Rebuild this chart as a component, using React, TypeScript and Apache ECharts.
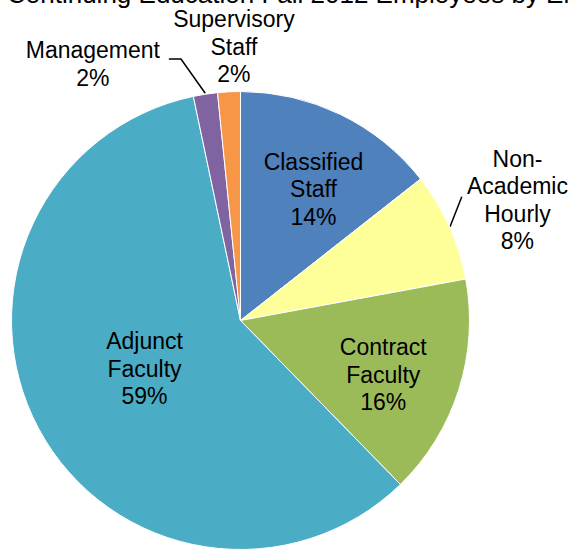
import React, { useEffect, useRef } from "react";
import * as echarts from "echarts";

const titleText = "Continuing Education Fall 2012 Employees by Employee Type";
const categories = ["Classified\nStaff", "Non-\nAcademic\nHourly", "Contract\nFaculty", "Adjunct\nFaculty", "Management", "Supervisory\nStaff"];
const values = [14.4, 7.7, 15.6, 59.0, 1.7, 1.6];
const colors = ["#4F81BD", "#FFFF99", "#9BBB59", "#4BACC6", "#8064A2", "#F79646"];

// label placement relative to slice mid-angle: radius (px) and angle offset (deg)
const labelPlacement = [
  { r: 150, d: 3.2 },
  { r: 302, d: 0.8 },
  { r: 152.7, d: 3.1 },
  { r: 107.5, d: 1.3 },
  { r: 296, d: -21.1 },
  { r: 273.6, d: 1.5 },
];
// leader lines (polar points relative to mid-angle), null = none
const leaderLines: (number[][] | null)[] = [
  null,
  [[229.5, 0.2], [253.5, -4.9]],
  null,
  null,
  [[230, 0], [268.2, -4.0], [271.1, -6.5]],
  null,
];

const CX = 240.5;
const CY = 320.5;
const R = 229;
const FONT = "'Liberation Sans', Arial, Helvetica, sans-serif";

export default function App() {
  const ref = useRef<HTMLDivElement>(null);
  useEffect(() => {
    if (!ref.current) return;
    const chart = echarts.init(ref.current, null, { renderer: "svg" });
    const total = values.reduce((a, b) => a + b, 0);
    const mids: number[] = [];
    let cum = 0;
    values.forEach((v) => {
      mids.push(((cum + v / 2) / total) * 360);
      cum += v;
    });
    const polar = (r: number, deg: number) => {
      const a = (deg * Math.PI) / 180;
      return [CX + r * Math.sin(a), CY - r * Math.cos(a)];
    };
    chart.setOption({
      animation: false,
      graphic: [
        {
          type: "text",
          left: 7,
          top: -19,
          style: { text: titleText, font: `26px ${FONT}`, fill: "#000" },
        },
      ],
      series: [
        {
          type: "pie",
          center: [CX, CY],
          radius: [0, R],
          startAngle: 90,
          clockwise: true,
          avoidLabelOverlap: false,
          itemStyle: { borderColor: "#ffffff", borderWidth: 1 },
          label: {
            show: true,
            position: "outside",
            color: "#000",
            fontFamily: FONT,
            fontSize: 23,
            lineHeight: 27.5,
            align: "center",
            formatter: (p: any) => `${p.name}\n${Math.round(p.percent)}%`,
          },
          labelLine: {
            show: true,
            lineStyle: { color: "#000", width: 1.5 },
          },
          labelLayout: (p: any) => {
            const i = p.dataIndex;
            const pl = labelPlacement[i];
            const [x, y] = polar(pl.r, mids[i] + pl.d);
            const res: any = { x, y, align: "center", verticalAlign: "middle" };
            const ll = leaderLines[i];
            if (ll) res.labelLinePoints = ll.map(([r, d]) => polar(r, mids[i] + d));
            return res;
          },
          data: categories.map((c, i) => ({
            name: c,
            value: values[i],
            itemStyle: { color: colors[i] },
            labelLine: { show: !!leaderLines[i] },
          })),
        },
      ],
    });
    return () => chart.dispose();
  }, []);
  return (
    <div
      ref={ref}
      style={{ position: "fixed", left: 0, top: 0, width: 573, height: 550, background: "#fff" }}
    />
  );
}
